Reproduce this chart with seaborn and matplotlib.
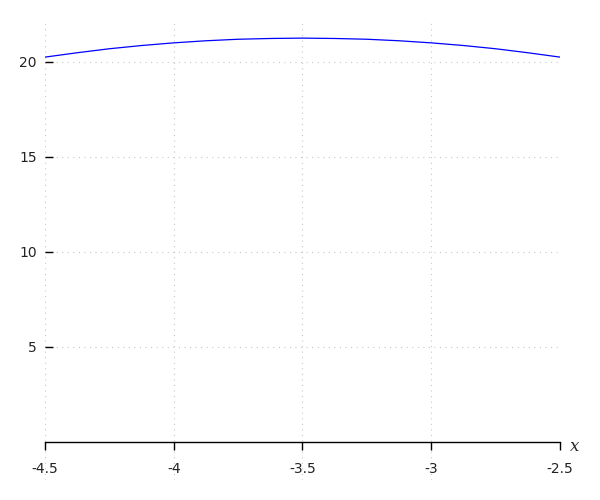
import numpy as np
import pandas as pd
import matplotlib
matplotlib.use("Agg")
import matplotlib.pyplot as plt
import matplotlib.transforms as mtransforms
import seaborn as sns

# values
x_vals = [-4.5, -4.375, -4.25, -4.125, -4.0, -3.875, -3.75, -3.625, -3.5,
          -3.375, -3.25, -3.125, -3.0, -2.875, -2.75, -2.625, -2.5]
y_vals = [20.25, 20.48, 20.69, 20.86, 21.0, 21.11, 21.19, 21.23, 21.25,
          21.23, 21.19, 21.11, 21.0, 20.86, 20.69, 20.48, 20.25]
x_ticks = [-4.5, -4, -3.5, -3, -2.5]
x_tick_labels = ["-4.5", "-4", "-3.5", "-3", "-2.5"]
y_ticks = [5, 10, 15, 20]
y_tick_labels = ["5", "10", "15", "20"]

df = pd.DataFrame({"x": x_vals, "y": y_vals})

sns.set_style("white")
plt.rcParams["axes.unicode_minus"] = False
plt.rcParams["font.family"] = ["DejaVu Sans"]

fig = plt.figure(figsize=(6, 5), dpi=100)
ax = fig.add_axes([0.075, 0.04, 0.8583, 0.918])

sns.lineplot(data=df, x="x", y="y", color="blue", linewidth=0.9, ax=ax)

ax.set_xlim(-4.5, -2.5)
ax.set_ylim(-2.0, 22.15)
ax.set_xticks(x_ticks)
ax.set_xticklabels(x_tick_labels)
ax.set_yticks(y_ticks)
ax.set_yticklabels(y_tick_labels)
ax.set_xlabel("")
ax.set_ylabel("")

ax.grid(True, linestyle=(0, (1, 4)), color="#c8c8c8", linewidth=0.8)
ax.set_axisbelow(True)

for s in ["left", "top", "right"]:
    ax.spines[s].set_visible(False)
ax.spines["bottom"].set_position(("data", 0))
ax.spines["bottom"].set_color("black")
ax.spines["bottom"].set_linewidth(1.0)

ax.tick_params(axis="x", direction="out", length=5.8, width=1, color="black",
               pad=8.3, labelsize=10, labelcolor="#222222", bottom=True)
ax.tick_params(axis="y", direction="in", length=5.8, width=1, color="black",
               pad=6, labelsize=10, labelcolor="#222222", left=True)

trans = mtransforms.blended_transform_factory(ax.transAxes, ax.transData)
ax.text(1.02, -0.25, "x", transform=trans, fontfamily="DejaVu Serif",
        fontstyle="italic", fontsize=12, ha="left", va="center")

fig.savefig("out.png", dpi=100)
